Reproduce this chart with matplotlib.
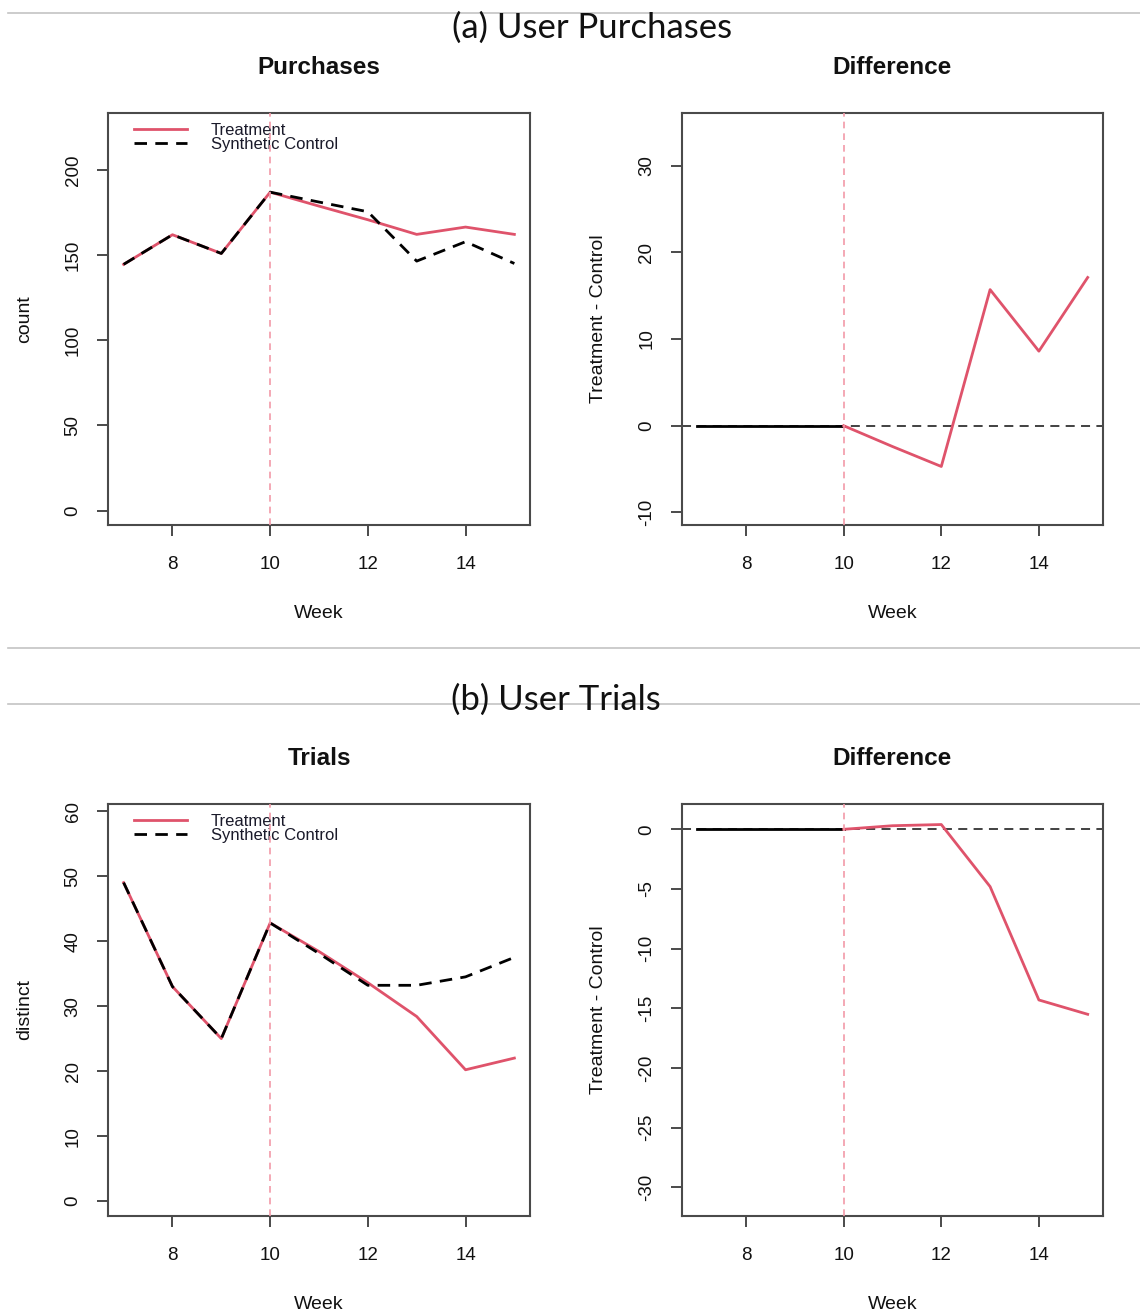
import numpy as np
import matplotlib
matplotlib.use("Agg")
import matplotlib.pyplot as plt

# weekly series: treatment vs synthetic control
weeks = np.array([7, 8, 9, 10, 11, 12, 13, 14, 15])
purch_treat = np.array([144.6, 162.0, 151.0, 187.0, 178.8, 170.8, 162.2, 166.5, 162.2])
purch_ctrl = np.array([144.6, 162.0, 151.0, 187.0, 181.2, 175.5, 146.5, 157.9, 145.1])
trial_treat = np.array([49.0, 33.0, 25.0, 42.8, 38.4, 33.6, 28.4, 20.2, 22.0])
trial_ctrl = np.array([49.0, 33.0, 25.0, 42.8, 38.1, 33.2, 33.2, 34.5, 37.5])
intervention_week = 10

x_ticks = [8, 10, 12, 14]
purch_yticks = [0, 50, 100, 150, 200]
purch_diff_yticks = [-10, 0, 10, 20, 30]
trial_yticks = [0, 10, 20, 30, 40, 50, 60]
trial_diff_yticks = [-30, -25, -20, -15, -10, -5, 0]

RED = "#DF536B"
VLINE = "#F29AA8"
AXC = "#4a4a4a"
FONT = "Liberation Sans"

plt.rcParams["font.family"] = FONT

fig = plt.figure(figsize=(11.40, 13.12), dpi=100)
W, H = 1140, 1312


def make_ax(left, top, right, bottom):
    return fig.add_axes([left / W, 1 - bottom / H, (right - left) / W, (bottom - top) / H])


def style(ax, yticks, ylim, title, ylabel):
    ax.set_xlim(6.68, 15.32)
    ax.set_ylim(*ylim)
    ax.set_xticks(x_ticks)
    ax.set_yticks(yticks)
    ax.set_yticklabels([str(t) for t in yticks], rotation=90, va="center")
    for s in ax.spines.values():
        s.set_color(AXC)
        s.set_linewidth(1.5)
    ax.tick_params(axis="both", direction="out", length=8, width=1.4, color=AXC,
                   labelsize=13.5, pad=11, labelcolor="#111")
    ax.tick_params(axis="x", pad=14.5)
    ax.set_title(title, fontsize=17.5, fontweight="bold", pad=28, color="#111")
    ax.set_xlabel("Week", fontsize=14, color="#111")
    ax.xaxis.set_label_coords(0.5, -0.195)
    ax.set_ylabel(ylabel, fontsize=14, color="#111")
    ax.yaxis.set_label_coords(-0.178, 0.5)
    ax.axvline(intervention_week, color=VLINE, lw=1.2, dashes=(4, 3), zorder=4)


def series_panel(ax, treat, ctrl):
    ax.plot(weeks, treat, color=RED, lw=2.0, zorder=2)
    ax.plot(weeks, ctrl, color="black", lw=2.0, dashes=(4.5, 3), zorder=3)
    # legend drawn without a frame, R style
    tr = ax.transAxes
    ax.plot([0.062, 0.187], [0.961, 0.961], color=RED, lw=2.0, transform=tr)
    ax.plot([0.062, 0.187], [0.927, 0.927], color="black", lw=2.0,
            dashes=(4.5, 3), transform=tr)
    ax.text(0.244, 0.958, "Treatment", transform=tr, fontsize=12, va="center", color="#1a1a2a")
    ax.text(0.244, 0.923, "Synthetic Control", transform=tr, fontsize=12, va="center",
            color="#1a1a2a")


def diff_panel(ax, treat, ctrl):
    diff = treat - ctrl
    pre = weeks <= intervention_week
    post = weeks >= intervention_week
    ax.axhline(0, color="#333333", lw=1.3, dashes=(5, 3.5), zorder=1)
    ax.plot(weeks[pre], diff[pre], color="black", lw=2.0, zorder=2)
    ax.plot(weeks[post], diff[post], color=RED, lw=2.0, zorder=3)


# (a) purchases
ax1 = make_ax(108, 113, 530, 525)
series_panel(ax1, purch_treat, purch_ctrl)
style(ax1, purch_yticks, (-8.5, 233.5), "Purchases", "count")

ax2 = make_ax(681.7, 113, 1103.3, 525)
diff_panel(ax2, purch_treat, purch_ctrl)
style(ax2, purch_diff_yticks, (-11.45, 36.07), "Difference", "Treatment - Control")

# (b) trials
ax3 = make_ax(108, 804, 530, 1216)
series_panel(ax3, trial_treat, trial_ctrl)
style(ax3, trial_yticks, (-2.3, 61.1), "Trials", "distinct")

ax4 = make_ax(681.7, 804, 1103.3, 1216)
diff_panel(ax4, trial_treat, trial_ctrl)
style(ax4, trial_diff_yticks, (-32.4, 2.12), "Difference", "Treatment - Control")

# section headers with separator rules
for y in (13, 648, 704):
    fig.add_artist(plt.Line2D([8 / W, 1.0], [1 - y / H, 1 - y / H], color="#c4c4c4", lw=1.2,
                              zorder=0))
fig.text(592 / W, 1 - 28 / H, "(a) User Purchases", ha="center", va="center",
         fontsize=25, family="Lato", color="#111")
fig.text(556 / W, 1 - 700 / H, "(b) User Trials", ha="center", va="center",
         fontsize=25, family="Lato", color="#111", zorder=5)

fig.savefig("out.png", dpi=100)
